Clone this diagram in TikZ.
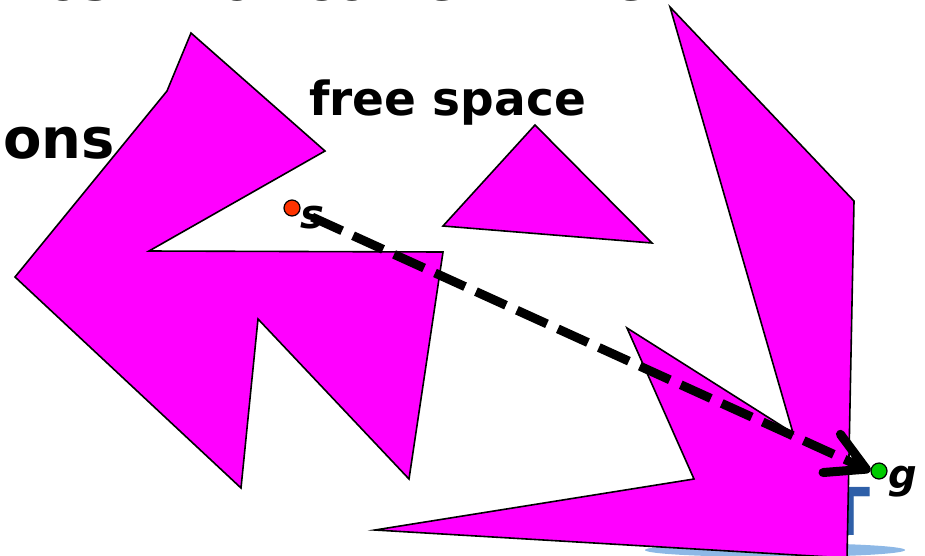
\documentclass[tikz,border=0pt]{standalone}
\usepackage{fontspec}
\setmainfont{DejaVu Sans}
\usetikzlibrary{arrows.meta}
\definecolor{obst}{HTML}{FF00FF}
\definecolor{sdot}{HTML}{FF3300}
\definecolor{gdot}{HTML}{00CC00}
\definecolor{logoblue}{HTML}{2E5FA8}
\definecolor{logoshadow}{HTML}{8DB8E6}
\begin{document}
\begin{tikzpicture}[x=1pt,y=-1pt,
    obstacle/.style={fill=obst,draw=black,line width=1.6pt},
    bigtext/.style={anchor=base west,inner sep=0pt,font=\bfseries\fontsize{52}{60}\selectfont},
    ptlabel/.style={anchor=base west,inner sep=0pt,font=\bfseries\itshape\fontsize{40}{44}\selectfont},
    ptdot/.style={circle,draw=black,line width=1.2pt,minimum size=16pt,inner sep=0pt},
    route/.style={line width=9pt,dash pattern=on 33pt off 12pt,
      -{Straight Barb[length=38pt,width=42pt,round]}}]
    \useasboundingbox (0,0) rectangle (925,555);
    \clip (0,0) rectangle (925,555);
    % cut-off slide text
    \foreach \w/\x in {ost/45,to/194,come/303,the/550}
        \node[bigtext] (top\w) at (\x,0.5) {\w};
    \node[bigtext,text=gray!60] (topplus) at (505,0.5) {+};
    \node[bigtext,font=\bfseries\fontsize{56}{60}\selectfont] (ons) at (3,158) {ons};
    % logo behind the obstacles
    \fill[logoshadow] (775,550) ellipse (130 and 7);
    \node[anchor=base,inner sep=0pt,text=logoblue,font=\bfseries\fontsize{66}{70}\selectfont] (logo) at (848,535) {T};
    % obstacles
    \draw[obstacle] (191,33) -- (325,151) -- (149,251) -- (443,252) -- (409,479)
        -- (258,319) -- (241,488) -- (15,277) -- (167,91) -- cycle;
    \draw[obstacle] (535,125) -- (652,243) -- (443,226) -- cycle;
    \draw[obstacle] (670,7) -- (854,201) -- (847,558) -- (375,530) -- (694,479)
        -- (627,328) -- (793,433) -- cycle;
    \node[anchor=base west,inner sep=0pt,font=\bfseries\fontsize{47}{50}\selectfont] (free) at (309,115) {free space};
    % start and goal
    \node[ptdot,fill=sdot] (s) at (292,208) {};
    \node[ptdot,fill=gdot] (g) at (879,471) {};
    \node[ptlabel] (slbl) at (300,228) {s};
    \node[ptlabel] (glbl) at (888,488) {g};
    \draw[route] (slbl.center) -- (g.west);
\end{tikzpicture}
\end{document}
